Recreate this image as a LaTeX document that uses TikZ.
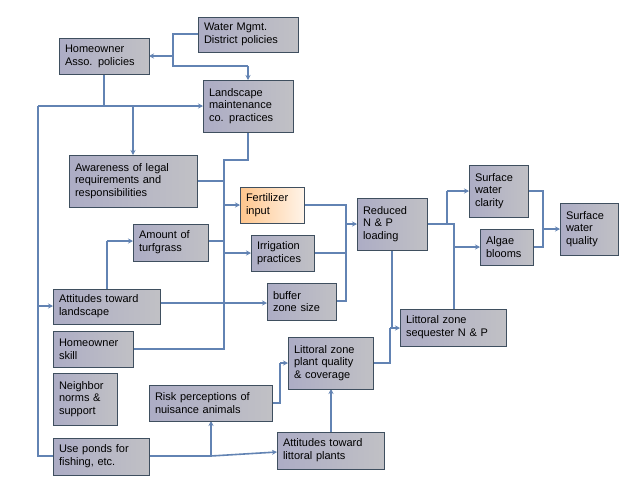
\documentclass[tikz,border=0pt]{standalone}
\usepackage{fontspec}
\setmainfont{Liberation Sans}
\usetikzlibrary{arrows.meta,shadows}
\definecolor{ln}{HTML}{6283B3}
\definecolor{bd}{HTML}{3F4F5F}
\tikzset{
 bx/.style={draw=bd,line width=0.9pt,left color=#1,right color=white!80!#1,
   drop shadow={shadow xshift=1.2pt,shadow yshift=-1.2pt,opacity=0.35},
   font=\fontsize{11}{12.8}\selectfont,align=left,inner sep=0pt,anchor=center},
 bx/.default={blue!18!gray!55!white},
 cn/.style={draw=ln,line width=1.6pt},
 ar/.style={cn,-{Stealth[length=5pt,width=5pt]}}
}
\newcommand{\bxx}[7][]{%
 \node[bx#1,minimum width=#4-#2,minimum height=#5-#3,text width=#4-#2-12] (#6) at ({(#2+#4)/2},{(#3+#5)/2}) {#7};}
\begin{document}
\begin{tikzpicture}[x=1pt,y=-1pt]
\useasboundingbox[fill=white] (0,0) rectangle (640,480);
% connectors first
\draw[cn] (198,34) -- (173,34) -- (173,66) -- (248,66);
\draw[ar] (173,56) -- (149,56);
\draw[ar] (248,66) -- (248,80);
\draw[cn] (104,74) -- (104,106);
\draw[ar] (38,106) -- (203,106);
\draw[ar] (133,106) -- (133,155);
\draw[cn] (38,106) -- (38,456) -- (53,456);
\draw[ar] (38,306) -- (53,306);
\draw[cn] (248,132) -- (248,160) -- (224,160) -- (224,349) -- (133,349);
\draw[cn] (197,181) -- (224,181);
\draw[ar] (224,205) -- (240,205);
\draw[ar] (224,253) -- (251,253);
\draw[cn] (208,241) -- (224,241);
\draw[cn] (107,289) -- (107,241);
\draw[ar] (107,241) -- (133,241);
\draw[ar] (160,303) -- (267,303);
\draw[cn] (304,205) -- (346,205) -- (346,301) -- (336,301);
\draw[cn] (314,253) -- (346,253);
\draw[ar] (346,224) -- (357,224);
\draw[cn] (427,224) -- (454,224) -- (454,309);
\draw[cn] (447,224) -- (447,191);
\draw[ar] (447,191) -- (469,191);
\draw[ar] (454,247) -- (480,247);
\draw[cn] (392,250) -- (392,328);
\draw[cn] (373,363) -- (390,363) -- (390,328);
\draw[ar] (390,328) -- (400,328);
\draw[cn] (528,191) -- (543,191) -- (543,247) -- (533,247);
\draw[ar] (543,229) -- (560,229);
\draw[cn] (272,403) -- (280,403) -- (280,363);
\draw[ar] (280,363) -- (288,363);
\draw[ar] (331,432) -- (331,389);
\draw[cn] (149,456) -- (211,456);
\draw[ar] (211,456) -- (277,452);
\draw[ar] (211,456) -- (211,421);
% boxes
\bxx{198}{17}{298}{52}{wm}{Water Mgmt.\\District policies}
\bxx{59}{38}{149}{74}{hoa}{Homeowner\\Asso. policies}
\bxx{203}{80}{293}{132}{lm}{Landscape\\maintenance\\co. practices}
\bxx{69}{155}{197}{207}{aw}{Awareness of legal\\requirements and\\responsibilities}
\bxx[={orange!45!white}]{240}{187}{304}{223}{fi}{Fertilizer\\input}
\bxx{133}{224}{208}{261}{tg}{Amount of\\turfgrass}
\bxx{251}{235}{314}{271}{ir}{Irrigation\\practices}
\bxx{53}{289}{160}{324}{al}{Attitudes toward\\landscape}
\bxx{267}{283}{336}{320}{bz}{buffer\\zone size}
\bxx{53}{331}{133}{367}{hs}{Homeowner\\skill}
\bxx{53}{373}{117}{425}{nn}{Neighbor\\norms \&\\support}
\bxx{149}{385}{272}{421}{rp}{Risk perceptions of\\nuisance animals}
\bxx{53}{438}{149}{475}{up}{Use ponds for\\fishing, etc.}
\bxx{277}{432}{384}{469}{alp}{Attitudes toward\\littoral plants}
\bxx{288}{337}{373}{389}{lp}{Littoral zone\\plant quality\\\& coverage}
\bxx{357}{198}{427}{250}{rn}{Reduced\\N \& P\\loading}
\bxx{469}{165}{528}{217}{sc}{Surface\\water\\clarity}
\bxx{480}{229}{533}{265}{ab}{Algae\\blooms}
\bxx{560}{203}{618}{255}{sq}{Surface\\water\\quality}
\bxx{400}{309}{506}{346}{ls}{Littoral zone\\sequester N \& P}
\end{tikzpicture}
\end{document}
